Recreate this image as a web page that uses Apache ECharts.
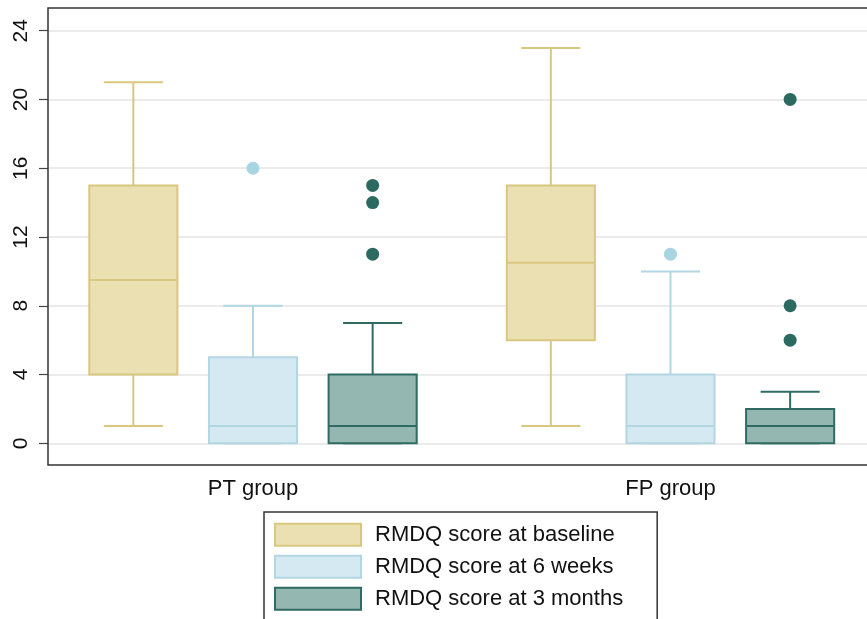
<!DOCTYPE html>
<html>
<head>
<meta charset="utf-8">
<script src="https://cdn.jsdelivr.net/npm/echarts@6/dist/echarts.min.js"></script>
<style>
html,body{margin:0;padding:0;background:#fff;}
#chart{width:867px;height:619px;}
</style>
</head>
<body>
<div id="chart"></div>
<script>
// ---- data ----
const categories = ['PT group', 'FP group'];
const categoryPos = [1, 2];
const seriesNames = ['RMDQ score at baseline', 'RMDQ score at 6 weeks', 'RMDQ score at 3 months'];
// [min, q1, median, q3, max] per category
const baseline = [[1, 4, 9.5, 15, 21], [1, 6, 10.5, 15, 23]];
const weeks6 = [[0, 0, 1, 5, 8], [0, 0, 1, 4, 10]];
const months3 = [[0, 0, 1, 4, 7], [0, 0, 1, 2, 3]];
// [categoryIndex, value]
const outliersBaseline = [];
const outliers6 = [[0, 16], [1, 11]];
const outliers3 = [[0, 15], [0, 14], [0, 11], [1, 20], [1, 8], [1, 6]];
const yTicks = [0, 4, 8, 12, 16, 20, 24];

// ---- styles ----
const fills = ['#ebe0b1', '#d4e9f1', '#95b7b2'];
const strokes = ['#dac77f', '#b2d6e2', '#2f6b63'];
const dotColors = ['#dac77f', '#a9d4e2', '#2c6a61'];
const offsets = [-0.2866, 0, 0.2866];   // in category units
const boxFrac = 0.211;
const capFrac = 0.1415;

const boxSets = [baseline, weeks6, months3];
const outlierSets = [outliersBaseline, outliers6, outliers3];

function boxSeries(k) {
  return {
    name: seriesNames[k],
    type: 'custom',
    itemStyle: { color: fills[k], borderColor: strokes[k], borderWidth: 2 },
    encode: { x: 0, y: [1, 2, 3, 4, 5] },
    data: boxSets[k].map((d, i) => [categoryPos[i] + offsets[k]].concat(d)),
    renderItem: function (params, api) {
      const xv = api.value(0);
      const unit = api.size([1, 0])[0];
      const cx = api.coord([xv, 0])[0];
      const y = [1, 2, 3, 4, 5].map(j => api.coord([xv, api.value(j)])[1]);
      const hw = boxFrac * unit / 2;
      const cw = capFrac * unit / 2;
      const ls = { stroke: strokes[k], lineWidth: 2, fill: null };
      return {
        type: 'group',
        children: [
          { type: 'line', shape: { x1: cx, y1: y[0], x2: cx, y2: y[1] }, style: ls },
          { type: 'line', shape: { x1: cx, y1: y[3], x2: cx, y2: y[4] }, style: ls },
          { type: 'line', shape: { x1: cx - cw, y1: y[0], x2: cx + cw, y2: y[0] }, style: ls },
          { type: 'line', shape: { x1: cx - cw, y1: y[4], x2: cx + cw, y2: y[4] }, style: ls },
          { type: 'rect', shape: { x: cx - hw, y: y[3], width: 2 * hw, height: y[1] - y[3] },
            style: { fill: fills[k], stroke: strokes[k], lineWidth: 2 } },
          { type: 'line', shape: { x1: cx - hw, y1: y[2], x2: cx + hw, y2: y[2] }, style: ls }
        ]
      };
    }
  };
}

function outlierSeries(k) {
  return {
    name: seriesNames[k] + ' outliers',
    type: 'scatter',
    symbol: 'circle',
    symbolSize: 13,
    itemStyle: { color: dotColors[k], opacity: 1 },
    data: outlierSets[k].map(d => [categoryPos[d[0]] + offsets[k], d[1]])
  };
}

const chart = echarts.init(document.getElementById('chart'), null, { renderer: 'canvas' });
chart.setOption({
  animation: false,
  backgroundColor: '#fff',
  grid: { left: 48, right: 0, top: 30.7, bottom: 175.7, containLabel: false },
  xAxis: {
    type: 'value',
    min: 0.509, max: 2.4707,
    axisLine: { show: false },
    axisTick: { show: false },
    splitLine: { show: false },
    axisLabel: {
      customValues: categoryPos,
      formatter: function (v) { const i = categoryPos.indexOf(v); return i >= 0 ? categories[i] : ''; },
      fontSize: 22, color: '#111', margin: 35, fontFamily: 'Liberation Sans, Arial, sans-serif'
    }
  },
  yAxis: {
    type: 'value',
    min: 0, max: 24, interval: 4,
    axisLine: { show: false },
    axisTick: { show: true, length: 9, lineStyle: { color: '#444', width: 1.2 } },
    splitLine: { show: true, lineStyle: { color: '#e4e4e4', width: 1.5 } },
    axisLabel: {
      rotate: 90, fontSize: 21, color: '#111', margin: 16,
      fontFamily: 'Liberation Sans, Arial, sans-serif',
      formatter: function (v) { return yTicks.indexOf(v) >= 0 ? String(v) : ''; }
    }
  },
  legend: {
    orient: 'vertical',
    left: 264, top: 512,
    width: 420, height: 150,
    padding: [10.7, 34, 12, 10],
    itemWidth: 86, itemHeight: 22, itemGap: 8,
    borderColor: '#333', borderWidth: 1.5,
    backgroundColor: '#fff',
    selectedMode: false,
    textStyle: { fontSize: 22, lineHeight: 22, color: '#111', fontFamily: 'Liberation Sans, Arial, sans-serif',
                 padding: [0, 0, 0, 9] },
    data: seriesNames.map((n, k) => ({
      name: n, icon: 'rect',
      itemStyle: { color: fills[k], borderColor: strokes[k], borderWidth: 2 }
    }))
  },
  graphic: [{
    type: 'rect', z: 100, silent: true,
    shape: { x: 48, y: 8, width: 850, height: 457 },
    style: { fill: null, stroke: '#333', lineWidth: 1.5 }
  }],
  series: [0, 1, 2].map(boxSeries).concat([0, 1, 2].map(outlierSeries))
});
</script>
</body>
</html>
